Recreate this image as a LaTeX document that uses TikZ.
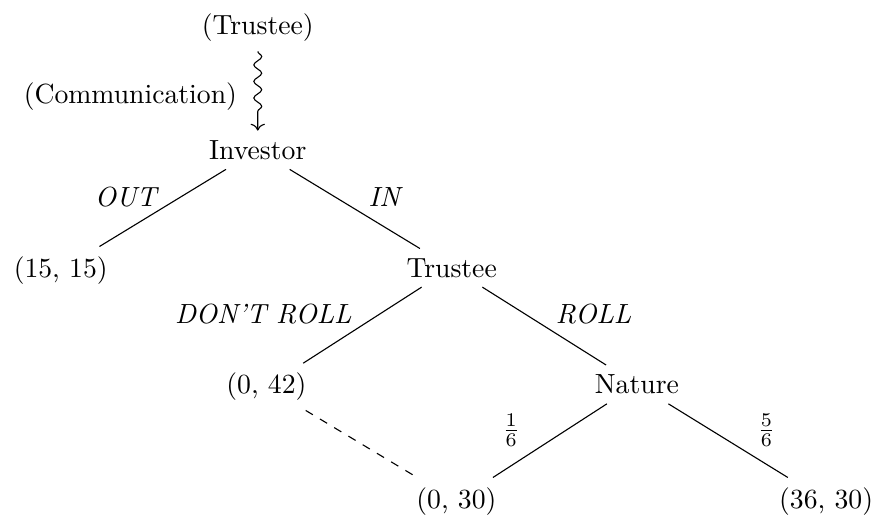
\documentclass[tikz,border=0pt]{standalone}
\usepackage{amsmath}
\usetikzlibrary{arrows.meta,positioning,decorations.pathmorphing}
\tikzset{
    player/.style={inner sep=3.33pt},
    payoff/.style={inner sep=3.33pt},
    branch/.style={thin},
    info set/.style={thin,dashed},
    move label/.style={font=\itshape},
    prob label/.style={inner sep=2pt},
    talk/.style={->,decorate,decoration={snake,amplitude=.5mm,segment length=2.1mm,post length=1.9mm}},
}

\begin{document}
\begin{tikzpicture}
    \useasboundingbox (0,0) rectangle (11.10,6.535);

    % players
    \node[player, anchor=base] (sender) at (3.27,6.094) {(Trustee)};
    \node[player, anchor=base] (investor) at (3.27,4.514) {Investor};
    \node[player, anchor=base] (trustee) at (5.73,3.02) {Trustee};
    \node[player, anchor=base] (nature) at (8.08,1.54) {Nature};

    % payoffs
    \node[payoff, anchor=base] (out) at (0.77,3.02) {(15, 15)};
    \node[payoff, anchor=base] (keep) at (3.38,1.54) {(0, 42)};
    \node[payoff, anchor=base] (fail) at (5.79,0.09) {(0, 30)};
    \node[payoff, anchor=base] (win) at (10.48,0.09) {(36, 30)};

    \draw[talk] (sender) -- (investor);
    \node[anchor=base east] (comm) at (3.13,5.228) {(Communication)};

    \draw[branch] (investor) -- (out);
    \draw[branch] (investor) -- (trustee);
    \draw[branch] (trustee) -- (keep);
    \draw[branch] (trustee) -- (nature);
    \draw[branch] (nature) -- (fail);
    \draw[branch] (nature) -- (win);
    \draw[info set] (keep) -- (fail);

    % move labels
    \node[move label, anchor=base east] (lout) at (2.109,3.909) {OUT};
    \node[move label, anchor=base west] (lin) at (4.553,3.909) {IN};
    \node[move label, anchor=base east] (ldont) at (4.584,2.437) {DON'T ROLL};
    \node[move label, anchor=base west] (lroll) at (6.926,2.437) {ROLL};
    \node[prob label] (lsix) at (6.485,1.079) {$\frac{1}{6}$};
    \node[prob label] (lfive) at (9.721,1.079) {$\frac{5}{6}$};
\end{tikzpicture}
\end{document}
